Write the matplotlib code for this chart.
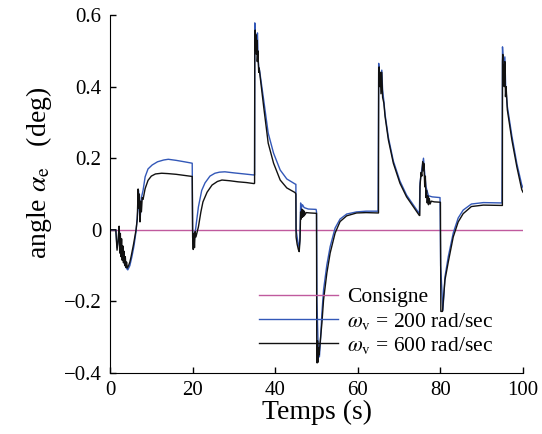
import numpy as np
import matplotlib
matplotlib.use('Agg')
import matplotlib.pyplot as plt

plt.rcParams['font.family'] = ['Liberation Serif', 'DejaVu Serif']
plt.rcParams['mathtext.fontset'] = 'stix'

# consigne (setpoint)
t_cons = [0, 100]
y_cons = [0, 0]

# omega_v = 200 rad/sec (blue)
t_200 = [0, 1.4, 1.7, 2.0, 2.2, 2.5, 3.0, 3.5, 4.0, 4.3, 4.8, 5.3, 5.8, 6.3, 6.7, 6.9, 7.1, 7.3,
         7.6, 8.0, 8.5, 9.2, 10.2, 11.5, 13.0, 14.1, 16.0, 18.0, 19.9,
         20.0, 20.2, 20.4, 20.7, 21.4, 22.2, 23.0, 24.2, 25.4, 26.5, 27.8, 30.0, 32.5, 34.9,
         35.0, 35.05, 35.3, 35.5, 35.7, 35.85, 36.0, 36.2, 37.2, 38.3, 39.6, 41.2, 42.8, 44.8,
         45.0, 45.05, 45.5, 45.8, 46.0, 46.15, 46.3, 46.6, 47.0, 48.0, 49.9,
         50.0, 50.1, 50.4, 50.7, 51.0, 51.3, 51.7, 52.5, 53.3, 54.5, 55.7, 57.3, 59.7, 62.0, 64.9,
         65.05, 65.3, 65.5, 65.8, 66.0, 66.3, 66.6, 67.4, 68.6, 70.2, 71.8, 73.4, 74.9,
         75.05, 75.5, 75.9, 76.1, 76.5, 77.1, 78.0, 79.9,
         80.05, 80.6, 81.1, 81.9, 83.1, 84.3, 85.5, 87.5, 90.4, 94.9,
         95.03, 95.3, 95.6, 95.8, 96.2, 97.3, 98.5, 99.7, 100.0]
y_200 = [0, 0, -0.05, -0.03, 0.005, -0.04, -0.07, -0.095, -0.108, -0.112, -0.1, -0.075, -0.045, -0.005, 0.05, 0.11, 0.06, 0.03,
         0.09, 0.11, 0.148, 0.17, 0.181, 0.19, 0.195, 0.197, 0.194, 0.19, 0.186,
         0.0, -0.04, -0.03, 0.0, 0.064, 0.11, 0.131, 0.15, 0.158, 0.161, 0.162, 0.159, 0.156, 0.153,
         0.153, 0.578, 0.5, 0.53, 0.55, 0.48, 0.455, 0.446, 0.363, 0.27, 0.214, 0.167, 0.142, 0.128,
         0.127, 0.0, -0.035, -0.05, -0.02, 0.075, 0.06, 0.07, 0.062, 0.058, 0.057,
         0.05, -0.2, -0.33, -0.355, -0.3, -0.233, -0.168, -0.098, -0.047, 0.005, 0.03, 0.044, 0.05, 0.052, 0.052,
         0.465, 0.42, 0.4, 0.446, 0.39, 0.36, 0.322, 0.258, 0.192, 0.136, 0.097, 0.07, 0.045,
         0.13, 0.17, 0.2, 0.17, 0.12, 0.095, 0.092, 0.09,
         -0.1, -0.225, -0.131, -0.075, -0.009, 0.033, 0.055, 0.072, 0.076, 0.075,
         0.511, 0.45, 0.483, 0.4, 0.345, 0.262, 0.185, 0.125, 0.118]

# omega_v = 600 rad/sec (black)
t_600 = [0, 1.4, 1.7, 1.95, 2.2, 2.35, 2.5, 2.65, 2.8, 2.95, 3.1, 3.25, 3.4, 3.55, 3.7, 3.85, 4.0, 4.2,
         4.5, 4.8, 5.1, 5.4, 5.7, 6.0, 6.3, 6.6, 6.8, 6.95, 7.1, 7.25, 7.4, 7.6, 7.8, 8.0, 8.5, 9.2,
         10.0, 11.0, 12.5, 14.0, 16.0, 18.0, 19.9,
         20.0, 20.15, 20.3, 20.45, 20.6, 20.8, 21.4, 22.0, 22.5, 23.5, 24.7, 26.0, 27.1, 29.0, 31.0, 33.0, 34.9,
         35.0, 35.05, 35.15, 35.25, 35.35, 35.45, 35.55, 35.65, 35.8, 36.0, 36.1, 37.2, 38.3, 39.6, 41.2, 42.8, 44.8,
         45.0, 45.05, 45.3, 45.6, 45.8, 46.0, 46.15, 46.3, 46.45, 46.6, 46.75, 46.9, 47.05, 47.2, 47.5, 48.5, 49.9,
         50.0, 50.05, 50.15, 50.25, 50.35, 50.45, 50.6, 51.3, 51.7, 52.5, 53.3, 54.5, 55.7, 57.3, 59.7, 62.0, 64.9,
         65.0, 65.05, 65.15, 65.3, 65.45, 65.6, 65.8, 66.0, 66.3, 66.6, 67.4, 68.6, 70.2, 71.8, 73.4, 74.9,
         75.0, 75.05, 75.3, 75.5, 75.7, 75.85, 76.0, 76.2, 76.35, 76.5, 76.65, 76.8, 76.95, 77.1, 77.3, 77.5, 77.8, 78.5, 79.9,
         80.0, 80.1, 80.5, 81.1, 81.9, 83.1, 84.3, 85.5, 87.5, 90.4, 94.9,
         95.0, 95.03, 95.1, 95.2, 95.3, 95.45, 95.6, 95.75, 95.9, 96.2, 97.3, 98.5, 99.7, 100.0]
y_600 = [0, 0, -0.057, -0.03, 0.01, -0.065, -0.01, -0.075, -0.025, -0.085, -0.045, -0.092, -0.06, -0.1, -0.075, -0.105, -0.09, -0.107,
         -0.1, -0.09, -0.075, -0.058, -0.04, -0.02, 0.0, 0.03, 0.114, 0.06, 0.1, 0.022, 0.08, 0.05, 0.09, 0.085, 0.115, 0.138,
         0.15, 0.156, 0.158, 0.157, 0.155, 0.152, 0.149,
         -0.02, -0.055, -0.01, -0.05, -0.005, -0.02, 0.008, 0.05, 0.078, 0.105, 0.125, 0.135, 0.139, 0.137, 0.134, 0.132, 0.129,
         0.13, 0.54, 0.558, 0.5, 0.545, 0.49, 0.53, 0.47, 0.5, 0.44, 0.452, 0.344, 0.242, 0.186, 0.139, 0.117, 0.104,
         0.1, -0.02, -0.04, -0.055, -0.061, -0.03, 0.05, 0.03, 0.058, 0.035, 0.055, 0.038, 0.052, 0.042, 0.048, 0.047, 0.046,
         0.046, -0.3, -0.372, -0.31, -0.37, -0.33, -0.35, -0.261, -0.196, -0.121, -0.065, -0.009, 0.023, 0.039, 0.047, 0.048, 0.047,
         0.047, 0.44, 0.455, 0.4, 0.44, 0.38, 0.44, 0.37, 0.354, 0.316, 0.251, 0.186, 0.13, 0.092, 0.065, 0.04,
         0.04, 0.12, 0.16, 0.15, 0.19, 0.165, 0.185, 0.12, 0.15, 0.09, 0.11, 0.075, 0.095, 0.07, 0.088, 0.072, 0.08, 0.078, 0.077,
         0.077, -0.228, -0.228, -0.14, -0.09, -0.02, 0.022, 0.045, 0.065, 0.069, 0.068,
         0.068, 0.47, 0.49, 0.42, 0.46, 0.40, 0.47, 0.372, 0.40, 0.335, 0.251, 0.176, 0.112, 0.105]

xticks = [0, 20, 40, 60, 80, 100]
yticks = [-0.4, -0.2, 0, 0.2, 0.4, 0.6]
ytick_labels = ['\u22120.4', '\u22120.2', '0', '0.2', '0.4', '0.6']

fig = plt.figure(figsize=(5.42, 4.34), dpi=100)
ax = fig.add_axes([0.203, 0.1406, 0.762, 0.8248])

ax.plot(t_cons, y_cons, color='#c05a9e', lw=1.0, label='Consigne')
ax.plot(t_200, y_200, color='#3358b8', lw=1.0, label=r'$\omega_\mathrm{v}$ = 200 rad/sec')
ax.plot(t_600, y_600, color='#111111', lw=1.0, label=r'$\omega_\mathrm{v}$ = 600 rad/sec')

ax.set_xlim(0, 100)
ax.set_ylim(-0.4, 0.6)
ax.set_xticks(xticks)
ax.set_yticks(yticks)
ax.set_yticklabels(ytick_labels)
ax.tick_params(direction='in', length=4, width=1, labelsize=15, pad=6)
ax.spines['top'].set_visible(False)
ax.spines['right'].set_visible(False)

ax.set_xlabel('Temps (s)', fontsize=20, labelpad=0)
ax.set_ylabel(r'angle $\alpha_\mathrm{e}$   (deg)', fontsize=20)
ax.yaxis.set_label_coords(-0.135, 0.56)

ax.legend(loc='upper left', bbox_to_anchor=(0.361, 0.239), frameon=False, fontsize=15.5,
          handlelength=3.67, handletextpad=0.42, labelspacing=0.15, borderpad=0, borderaxespad=0)

fig.savefig('out.png', dpi=100)
